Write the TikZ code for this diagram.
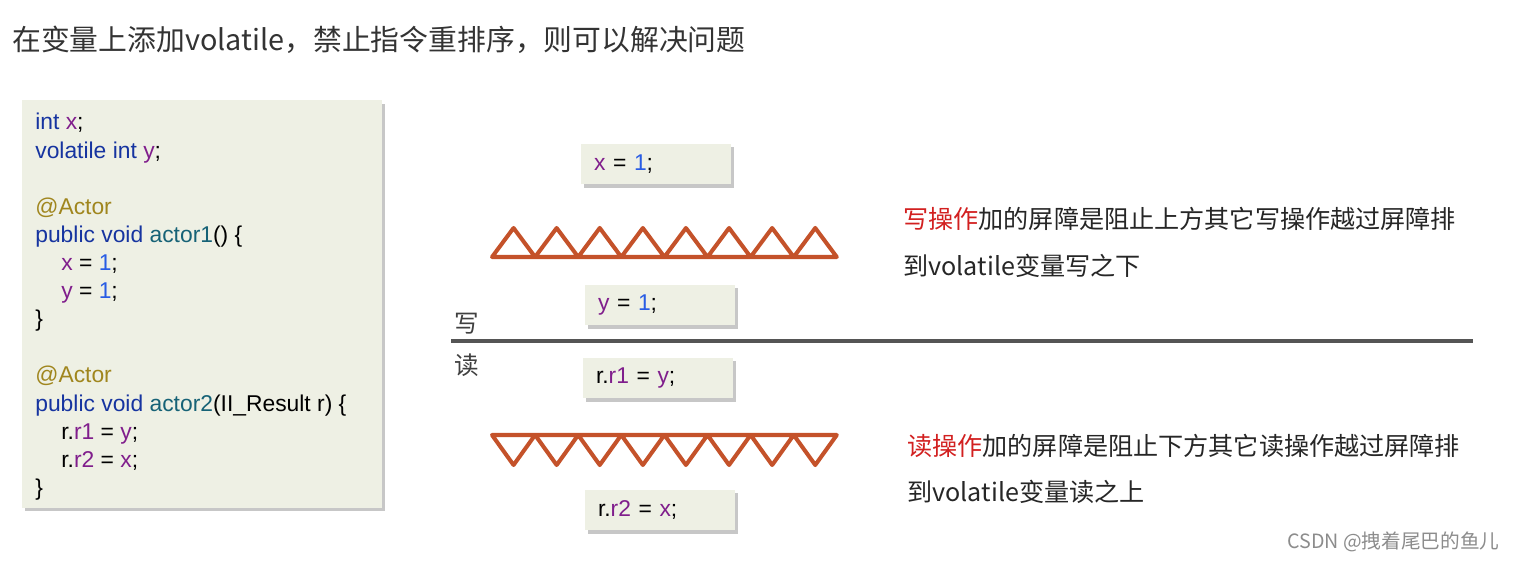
\documentclass[tikz,border=0pt]{standalone}
\usepackage{fontspec}
\setmainfont{Liberation Sans}
\newfontfamily\cjk{Noto Sans CJK SC}
\usetikzlibrary{positioning,shadows}
\definecolor{boxbg}{RGB}{238,240,228}
\definecolor{kwblue}{RGB}{22,52,160}
\definecolor{fnteal}{RGB}{22,98,118}
\definecolor{annogold}{RGB}{160,134,30}
\definecolor{varpurple}{RGB}{128,30,140}
\definecolor{numblue}{RGB}{40,92,228}
\definecolor{fence}{RGB}{196,82,42}
\definecolor{opred}{RGB}{210,32,32}
\definecolor{rule}{RGB}{85,85,85}
\newcommand{\kwd}[1]{\textcolor{kwblue}{#1}}
\newcommand{\fnc}[1]{\textcolor{fnteal}{#1}}
\newcommand{\ann}[1]{\textcolor{annogold}{#1}}
\newcommand{\cvar}[1]{\textcolor{varpurple}{#1}}
\newcommand{\cnum}[1]{\textcolor{numblue}{#1}}
\tikzset{
	codebox/.style={fill=boxbg, drop shadow={shadow xshift=1.6pt, shadow yshift=-1.8pt, opacity=.22, fill=black}},
	src/.style={inner sep=0pt, align=left, font=\fontsize{13}{16}\selectfont},
	stmt/.style={codebox, minimum width=3cm, minimum height=0.82cm, inner xsep=0.26cm, text width=2.48cm, align=left, font=\fontsize{13}{16}\selectfont},
	barrier/.style={draw=fence, line width=2.3pt, line join=round},
	sep/.style={draw=rule, line width=2.2pt},
	headline/.style={inner sep=0pt, font=\cjk\fontsize{16.4}{20}\selectfont, text=black!80},
	remark/.style={inner sep=0pt, font=\cjk\fontsize{14.3}{18}\selectfont, text=black!85},
	rwlabel/.style={inner sep=0pt, font=\cjk\fontsize{14}{18}\selectfont, text=black!75},
	wmark/.style={inner sep=0pt, font=\cjk\fontsize{11.2}{14}\selectfont, text=black!45},
}
\begin{document}
\begin{tikzpicture}[x=0.02cm, y=-0.02cm]
\useasboundingbox (0,0) rectangle (1516,561);
% title
\node[headline, anchor=west] (head) at (12,40) {在变量上添加volatile，禁止指令重排序，则可以解决问题};

% code of the two actors
\node[codebox, anchor=north west, minimum width=7.2cm, minimum height=8.16cm] (code) at (22,100) {};
\node[src, anchor=north west] (src) at (35,113) {%
\kwd{int} \cvar{x};\\
\kwd{volatile int} \cvar{y};\\
\\
\ann{@Actor}\\
\kwd{public void} \fnc{actor1}() \{\\
\hspace*{0.52cm}\cvar{x} = \cnum{1};\\
\hspace*{0.52cm}\cvar{y} = \cnum{1};\\
\}\\
\\
\ann{@Actor}\\
\kwd{public void} \fnc{actor2}(II\_Result r) \{\\
\hspace*{0.52cm}r.\cvar{r1} = \cvar{y};\\
\hspace*{0.52cm}r.\cvar{r2} = \cvar{x};\\
\}};

% statements
\node[stmt] (wx) at (656,164) {\cvar{x} = \cnum{1};};
\node[stmt] (wy) at (660,305) {\cvar{y} = \cnum{1};};
\node[stmt] (rr1) at (658,378) {r.\cvar{r1} = \cvar{y};};
\node[stmt] (rr2) at (660,510) {r.\cvar{r2} = \cvar{x};};

% barriers
\draw[barrier] (492,257) \foreach \i in {0,...,7}{ -- ++(21.55,-29) -- ++(21.55,29)} -- cycle;
\draw[barrier] (492,435) \foreach \i in {0,...,7}{ -- ++(21.55,30) -- ++(21.55,-30)} -- cycle;

% write / read divider
\coordinate (sepL) at (451,341);
\coordinate (sepR) at (1473,341);
\draw[sep] (sepL) -- (sepR);
\node[rwlabel] (wlab) at (467,324) {写};
\node[rwlabel] (rlab) at (467,365) {读};

% notes
\node[remark, anchor=west] (wnote) at (903,219) {\textcolor{opred}{写操作}加的屏障是阻止上方其它写操作越过屏障排};
\node[remark, anchor=west] (wnote2) at (903,266) {到volatile变量写之下};
\node[remark, anchor=west] (rnote) at (907,446) {\textcolor{opred}{读操作}加的屏障是阻止下方其它读操作越过屏障排};
\node[remark, anchor=west] (rnote2) at (907,492) {到volatile变量读之上};

\node[wmark, anchor=east] (csdn) at (1500,542) {CSDN @拽着尾巴的鱼儿};
\end{tikzpicture}
\end{document}
